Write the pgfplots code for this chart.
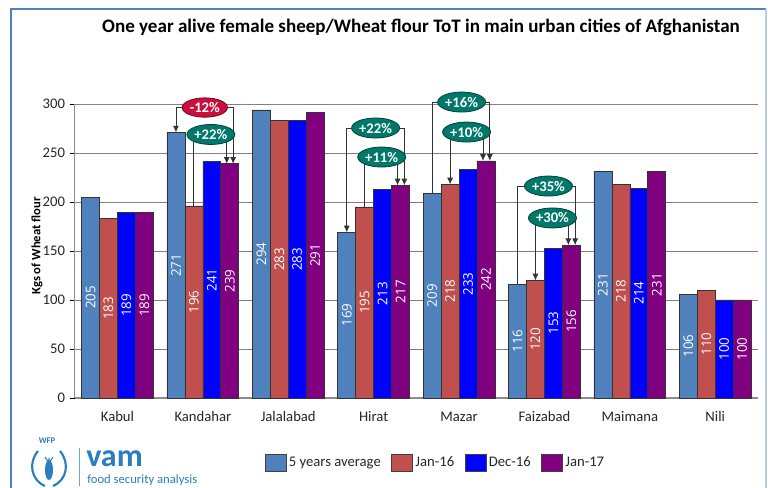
\documentclass[border=0pt]{standalone}
\usepackage{pgfplots}
\pgfplotsset{compat=1.18}
\usepackage{pgfplotstable}
\usepackage{fontspec}
\setmainfont{Carlito}
\newfontfamily\labfont{Open Sans}
\usetikzlibrary{shapes.geometric, arrows.meta}

\definecolor{cavg}{RGB}{79,129,189}
\definecolor{cj16}{RGB}{192,80,77}
\definecolor{cd16}{RGB}{0,0,255}
\definecolor{cj17}{RGB}{128,0,128}
\definecolor{teal1}{RGB}{0,120,106}
\definecolor{red1}{RGB}{200,16,58}
\definecolor{frameblue}{RGB}{79,129,189}
\definecolor{wfpblue}{RGB}{42,125,193}

\pgfplotstableread{
x avg j16 d16 j17
0 205 183 189 189
1 271 196 241 239
2 294 283 283 291
3 169 195 213 217
4 209 218 233 242
5 116 120 153 156
6 231 218 214 231
7 106 110 100 100
}\data

\pgfplotsset{
  mybar/.style={ybar, bar width=0.21, draw=black!80, line width=0.5pt,
    legend image code/.code={\draw[##1, draw=black!75, line width=0.5pt] (0pt,-6.3pt) rectangle (15.5pt,6.3pt);}},
  barlab/.style={draw=none, mark=none, forget plot, point meta=explicit,
    nodes near coords,
    nodes near coords style={anchor=center, rotate=90, text=white, inner sep=0pt,
      font=\labfont\fontsize{10}{10}\selectfont}},
}
\tikzset{
  pct/.style={ellipse, fill=teal1, draw=teal1!55!black, line width=0.6pt, text=white,
    font=\bfseries\fontsize{11}{12}\selectfont, minimum width=36pt, minimum height=15pt, inner sep=0pt},
  conn/.style={draw=black!80, line width=0.6pt},
  arr/.style={-{Latex[length=5pt,width=4.5pt]}},
}

\begin{document}
\begin{tikzpicture}
\begin{axis}[
  at={(0,0)}, anchor=south west,
  scale only axis, width=512.4pt, height=220.5pt,
  xmin=-0.5, xmax=7.5, ymin=0, ymax=300,
  clip=false,
  axis lines*=left,
  axis line style={draw=black!45, line width=0.8pt},
  xtick={0,1,2,3,4,5,6,7},
  xticklabels={Kabul,Kandahar,Jalalabad,Hirat,Mazar,Faizabad,Maimana,Nili},
  xtick style={draw=none},
  ytick={0,50,...,300},
  ytick style={draw=black, line width=0.6pt},
  tick align=outside,
  major tick length=3.75pt,
  ymajorgrids,
  grid style={draw=black!50, line width=0.6pt},
  /pgf/number format/assume math mode=true,
  tick label style={font=\fontsize{11}{13}\selectfont, text=black!85},
  xticklabel style={anchor=base, yshift=-14pt},
  ylabel={Kgs of Wheat flour},
  ylabel style={at={(axis description cs:-0.0553,0.517)}, anchor=center,
    font=\bfseries\fontsize{9.5}{11}\selectfont},
  legend style={at={(0.272,-0.221)}, anchor=west, draw=none, fill=none,
    legend columns=4, font=\fontsize{11}{13}\selectfont, text=black!85,
    /tikz/every even column/.append style={column sep=6pt}},
]
\addplot[mybar, bar shift=-0.315, fill=cavg] table[x=x, y=avg] {\data};
\addlegendentry{5 years average}
\addplot[mybar, bar shift=-0.105, fill=cj16] table[x=x, y=j16] {\data};
\addlegendentry{Jan-16}
\addplot[mybar, bar shift=0.105, fill=cd16] table[x=x, y=d16] {\data};
\addlegendentry{Dec-16}
\addplot[mybar, bar shift=0.315, fill=cj17] table[x=x, y=j17] {\data};
\addlegendentry{Jan-17}

\addplot[barlab] table[x expr=\thisrow{x}-0.315, y expr=\thisrow{avg}/2, meta=avg] {\data};
\addplot[barlab] table[x expr=\thisrow{x}-0.105, y expr=\thisrow{j16}/2, meta=j16] {\data};
\addplot[barlab] table[x expr=\thisrow{x}+0.105, y expr=\thisrow{d16}/2, meta=d16] {\data};
\addplot[barlab] table[x expr=\thisrow{x}+0.315, y expr=\thisrow{j17}/2, meta=j17] {\data};

% Kandahar
\draw[conn, arr] (axis cs:1.023,296.4) -| (axis cs:0.685,271);
\draw[conn, arr] (axis cs:1.023,296.4) -| (axis cs:1.355,239);
\draw[conn] (axis cs:1.094,268.9) -| (axis cs:0.895,196);
\draw[conn, arr] (axis cs:1.094,268.9) -| (axis cs:1.28,239);
\node[pct, fill=red1, draw=red1!55!black, minimum width=34pt, minimum height=14.5pt] at (axis cs:1.023,296.4) {-12\%};
\node[pct] at (axis cs:1.094,268.9) {+22\%};
% Hirat
\draw[conn, arr] (axis cs:3.023,275.5) -| (axis cs:2.685,169);
\draw[conn, arr] (axis cs:3.023,275.5) -| (axis cs:3.36,217);
\draw[conn] (axis cs:3.094,245.9) -| (axis cs:2.895,195);
\draw[conn, arr] (axis cs:3.094,245.9) -| (axis cs:3.28,217);
\node[pct] at (axis cs:3.023,275.5) {+22\%};
\node[pct] at (axis cs:3.094,245.9) {+11\%};
% Mazar
\draw[conn] (axis cs:4.030,302.0) -| (axis cs:3.685,209);
\draw[conn, arr] (axis cs:4.030,302.0) -| (axis cs:4.36,242);
\draw[conn, arr] (axis cs:4.088,271.4) -| (axis cs:3.895,218);
\draw[conn, arr] (axis cs:4.088,271.4) -| (axis cs:4.28,242);
\node[pct] at (axis cs:4.030,302.0) {+16\%};
\node[pct] at (axis cs:4.088,271.4) {+10\%};
% Faizabad
\draw[conn] (axis cs:5.047,216.3) -| (axis cs:4.685,116);
\draw[conn, arr] (axis cs:5.047,216.3) -| (axis cs:5.36,156);
\draw[conn, arr] (axis cs:5.094,183.7) -| (axis cs:4.895,120);
\draw[conn, arr] (axis cs:5.094,183.7) -| (axis cs:5.28,156);
\node[pct] at (axis cs:5.047,216.3) {+35\%};
\node[pct] at (axis cs:5.094,183.7) {+30\%};
\end{axis}

\begin{scope}[shift={(-56.0625pt,298.5pt)}, x=0.75pt, y=-0.75pt]
  % frame
  \draw[frameblue, line width=1.5pt] (11,488) -- (11,9) -- (766,9);
  \draw[frameblue!40, line width=1pt] (766,9) -- (766,488);
  % title
  \node[font=\bfseries\fontsize{14.3}{16}\selectfont] at (421,27)
    {One year alive female sheep/Wheat flour ToT in main urban cities of Afghanistan};
  % logo
  \node[font=\bfseries\fontsize{6.5}{7}\selectfont, text=wfpblue] at (47,441) {WFP};
  \draw[wfpblue, line width=1.6pt] (38,451) .. controls (28,463) and (31,480) .. (45,486);
  \draw[wfpblue, line width=1.6pt] (60,451) .. controls (70,463) and (67,480) .. (53,486);
  \fill[wfpblue] (49,470) ellipse (4 and 10);
  \draw[wfpblue, line width=0.8pt] (45,457) -- (49,463) -- (53,457) (49,458) -- (49,462);
  \draw[wfpblue!70, line width=0.6pt] (79,448) -- (79,486);
  \node[anchor=base west, inner sep=0pt, font=\bfseries\fontsize{24}{25}\selectfont, text=wfpblue] at (86,467) {vam};
  \node[anchor=base west, inner sep=0pt, font=\fontsize{9.5}{10}\selectfont, text=wfpblue] at (87,484) {food security analysis};
  \pgfresetboundingbox
  \useasboundingbox (0,0) rectangle (768,488);
\end{scope}
\end{tikzpicture}
\end{document}
